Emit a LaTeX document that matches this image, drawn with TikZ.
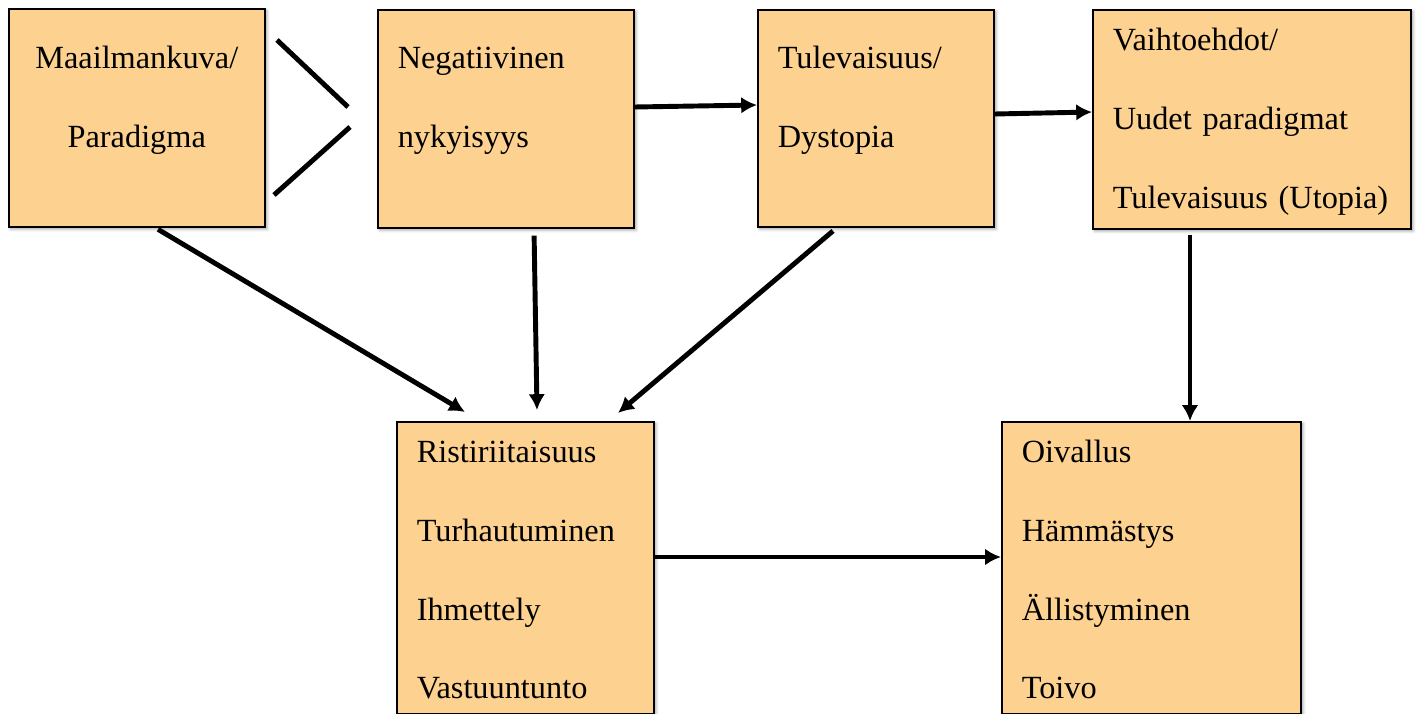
\documentclass[tikz,border=0pt]{standalone}
\usepackage{fontspec}
\setmainfont{Liberation Serif}
\usetikzlibrary{arrows.meta,shadows.blur}
\definecolor{boxfill}{RGB}{253,210,145}

\begin{document}
\begin{tikzpicture}[x=0.02cm, y=-0.02cm,
      box/.style n args={3}{draw, line width=0.9pt, fill=boxfill,
        anchor=north west, inner xsep=0.4cm, inner ysep=0pt,
        text width=#1, text height=#2, text depth=#3, align=left,
        font=\fontsize{18.4pt}{44.8pt}\selectfont,
        blur shadow={shadow xshift=1.2pt, shadow yshift=-1.2pt,
          shadow blur steps=4, shadow opacity=40}},
      arr/.style = {line width=2.8pt, -{Latex[length=9pt,width=9.5pt]}},
      bar/.style = {line width=2.8pt}]
  \useasboundingbox (0,0) rectangle (1418,714);
  \node[box={4.32cm}{1.2cm}{3.16cm}, align=center] (A) at (8,8)
    {Maailmankuva/\\Paradigma};
  \node[box={4.32cm}{1.18cm}{3.18cm}] (B) at (377,9)
    {Negatiivinen\\nykyisyys};
  \node[box={3.92cm}{1.18cm}{3.16cm}] (C) at (757,9)
    {Tulevaisuus/\\Dystopia};
  \node[box={5.56cm}{0.82cm}{3.56cm}] (D) at (1092,9)
    {Vaihtoehdot/\\Uudet paradigmat\\Tulevaisuus (Utopia)};
  \node[box={4.34cm}{0.82cm}{5.02cm}] (E) at (396,421)
    {Ristiriitaisuus\\Turhautuminen\\Ihmettely\\Vastuuntunto};
  \node[box={5.18cm}{0.82cm}{5.02cm}] (F) at (1001,421)
    {Oivallus\\Hämmästys\\Ällistyminen\\Toivo};

  \draw[bar] (277,40) -- (348,107);
  \draw[bar] (350,127) -- (274,195);

  \draw[arr] (B.east |- 0,107) -- (C.west |- 0,105);
  \draw[arr] (C.east |- 0,114) -- (D.west |- 0,112);
  \draw[arr, shorten <=2pt] (A.south -| 155,0) -- (465,412);
  \draw[arr, shorten <=4pt] (B.south -| 534,0) -- (537,410);
  \draw[arr, shorten <=3pt] (C.south -| 837,0) -- (618,413);
  \draw[arr, shorten <=3pt] (D.south -| 1190,0) -- (F.north -| 1190,0);
  \draw[arr] (E.east |- 0,557) -- (F.west |- 0,557);
\end{tikzpicture}
\end{document}
